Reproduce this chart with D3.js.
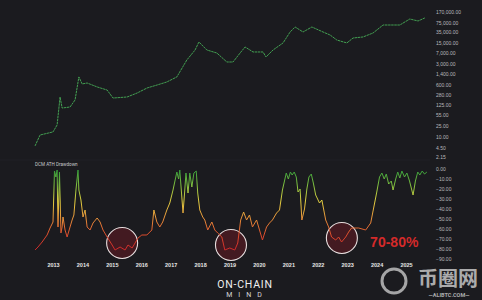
<!DOCTYPE html>
<html>
<head>
<meta charset="utf-8">
<script src="https://cdn.jsdelivr.net/npm/d3@7"></script>
<style>
  body { margin: 0; background: #1b1b1f; }
  svg { display: block; }
</style>
</head>
<body>
<div class="chart-box"></div>
<script>
// price (log, upper pane): [decimal year, USD]
const priceYears = [2012.39, 2012.56, 2013.00, 2013.14, 2013.24, 2013.31, 2013.58, 2013.75, 2013.88, 2013.99,
  2014.16, 2014.50, 2014.84, 2015.04, 2015.52, 2015.86, 2016.20, 2016.54, 2016.87, 2017.21,
  2017.55, 2017.83, 2017.96, 2018.23, 2018.57, 2018.91, 2019.12, 2019.36, 2019.53, 2019.80,
  2020.14, 2020.24, 2020.48, 2020.82, 2021.06, 2021.23, 2021.50, 2021.80, 2022.18, 2022.42,
  2022.65, 2022.99, 2023.20, 2023.54, 2023.88, 2024.22, 2024.56, 2024.79, 2025.13, 2025.41, 2025.64];
const priceValues = [5.1, 11.9, 15.1, 26, 229, 97, 105, 182, 1089, 630,
  680, 500, 393, 211, 229, 312, 462, 582, 736, 1089,
  4070, 8850, 16500, 8850, 7000, 3480, 3480, 7000, 11200, 7590,
  7590, 5150, 8850, 15300, 35900, 53000, 35900, 53000, 35900, 28400,
  19200, 15300, 22500, 24400, 33200, 61800, 61800, 61800, 98700, 84500, 107000];

// DCM ATH drawdown (%), lower pane
const ddYears = [2012.39, 2012.49, 2012.63, 2012.80, 2012.90, 2013.00, 2013.05, 2013.10, 2013.14, 2013.17,
  2013.22, 2013.27, 2013.31, 2013.34, 2013.41, 2013.48, 2013.58, 2013.65, 2013.71, 2013.78,
  2013.85, 2013.88, 2013.95, 2014.02, 2014.09, 2014.16, 2014.26, 2014.36, 2014.50, 2014.60,
  2014.70, 2014.84, 2015.01, 2015.11, 2015.28, 2015.45, 2015.55, 2015.69, 2015.79, 2015.89,
  2016.02, 2016.19, 2016.36, 2016.43, 2016.53, 2016.63, 2016.73, 2016.87, 2016.97, 2017.08,
  2017.21, 2017.27, 2017.31, 2017.42, 2017.47, 2017.52, 2017.59, 2017.65, 2017.72, 2017.79,
  2017.87, 2017.92, 2017.99, 2018.09, 2018.16, 2018.26, 2018.40, 2018.50, 2018.60, 2018.74,
  2018.84, 2019.01, 2019.18, 2019.28, 2019.38, 2019.48, 2019.58, 2019.68, 2019.78, 2019.92,
  2020.02, 2020.12, 2020.26, 2020.36, 2020.46, 2020.60, 2020.70, 2020.80, 2020.93, 2021.00,
  2021.07, 2021.13, 2021.20, 2021.27, 2021.33, 2021.40, 2021.46, 2021.55, 2021.63, 2021.70,
  2021.78, 2021.85, 2021.93, 2022.06, 2022.14, 2022.27, 2022.37, 2022.47, 2022.61, 2022.71,
  2022.81, 2022.95, 2023.05, 2023.15, 2023.39, 2023.63, 2023.80, 2023.90, 2024.00, 2024.10,
  2024.18, 2024.26, 2024.33, 2024.41, 2024.50, 2024.56, 2024.65, 2024.72, 2024.79, 2024.86,
  2024.95, 2025.03, 2025.12, 2025.24, 2025.32, 2025.40, 2025.47, 2025.55, 2025.63, 2025.71];
const ddValues = [-81, -78, -73, -66, -59, -53, -2, -8, -1, -58,
  -3, -64, -58, -48, -61, -68, -58, -51, -46, -21,
  -1, -21, -31, -48, -41, -58, -61, -54, -49, -53,
  -61, -68, -76, -81, -78, -81, -76, -79, -74, -69,
  -66, -66, -61, -41, -53, -58, -53, -41, -34, -21,
  -3, -10, -1, -44, -25, -4, -24, -4, -18, -4,
  -2, -24, -41, -48, -51, -61, -53, -61, -64, -68,
  -81, -79, -81, -74, -51, -43, -51, -46, -58, -51,
  -61, -71, -58, -54, -51, -44, -41, -21, -4, -10,
  -3, -6, -3, -8, -23, -20, -51, -40, -20, -8,
  -5, -14, -26, -34, -31, -51, -58, -68, -71, -68,
  -73, -68, -63, -59, -59, -61, -54, -39, -24, -8,
  -4, -10, -5, -15, -12, -21, -10, -3, -9, -2,
  -8, -4, -12, -26, -12, -3, -6, -2, -5, -3];

const yearTicks = [2013, 2014, 2015, 2016, 2017, 2018, 2019, 2020, 2021, 2022, 2023, 2024, 2025];
const priceTicks = [170000, 75000, 35000, 15000, 7000, 3000, 1400, 600, 280, 125, 55, 25, 10, 4.5, 2.15];
const ddTicks = [0, -10, -20, -30, -40, -50, -60, -70, -80, -90];

// bottoms circled on the drawdown pane
const bottomYears = [2015.35, 2019.05, 2022.82];
const bottomValues = [-74, -76, -69];

const width = 482, height = 300;

const svg = d3.select(".chart-box")
  .append("svg")
  .attr("width", width)
  .attr("height", height)
  .style("font-family", "Roboto, 'DejaVu Sans', sans-serif");

svg.append("rect").attr("width", width).attr("height", height).attr("fill", "#1b1b1f");

const x = d3.scaleLinear().domain([2013, 2025]).range([53, 406]);
const yPrice = d3.scaleLog().domain([2.15, 170000]).range([157, 12]);
const yDD = d3.scaleLinear().domain([-90, 0]).range([259, 169]);

const fmt = d3.format(",.2f");

// right axes
svg.append("g")
  .attr("transform", "translate(432,0)")
  .call(d3.axisRight(yPrice).tickValues(priceTicks).tickSize(0).tickPadding(4).tickFormat(fmt))
  .call(g => g.select(".domain").remove())
  .selectAll("text")
  .attr("fill", "#b8b8bc")
  .style("font-size", "5px");

svg.append("g")
  .attr("transform", "translate(432,0)")
  .call(d3.axisRight(yDD).tickValues(ddTicks).tickSize(0).tickPadding(4).tickFormat(fmt))
  .call(g => g.select(".domain").remove())
  .selectAll("text")
  .attr("fill", "#b8b8bc")
  .style("font-size", "5px");

// year axis
svg.append("g")
  .attr("transform", "translate(0,263)")
  .call(d3.axisBottom(x).tickValues(yearTicks).tickSize(0).tickPadding(0).tickFormat(d3.format("d")))
  .call(g => g.select(".domain").remove())
  .selectAll("text")
  .attr("fill", "#e6e6e6")
  .style("font-size", "5.5px")
  .style("font-weight", "bold");

// pane divider + title
svg.append("line")
  .attr("x1", 0).attr("x2", 430)
  .attr("y1", 160).attr("y2", 160)
  .attr("stroke", "#26262c").attr("stroke-width", 0.6);

svg.append("text")
  .attr("x", 35).attr("y", 166)
  .attr("fill", "#c8c8cc")
  .style("font-size", "4.6px")
  .text("DCM ATH Drawdown");

// price line
const priceData = priceYears.map((d, i) => ({year: d, v: priceValues[i]}));
svg.append("path")
  .datum(priceData)
  .attr("fill", "none")
  .attr("stroke", "#43a052")
  .attr("stroke-width", 1)
  .attr("stroke-dasharray", "2.5,0.6")
  .attr("d", d3.line().x(d => x(d.year)).y(d => yPrice(d.v)));

// circles behind the drawdown line
const bottoms = bottomYears.map((d, i) => ({year: d, v: bottomValues[i]}));
svg.selectAll(".bottom")
  .data(bottoms)
  .enter().append("circle")
  .attr("class", "bottom")
  .attr("cx", d => x(d.year))
  .attr("cy", d => yDD(d.v))
  .attr("r", 15.5)
  .attr("fill", "#4a1a22")
  .attr("fill-opacity", 0.85)
  .attr("stroke", "#e6dede")
  .attr("stroke-width", 1.1);

// drawdown line, coloured by level
const grad = svg.append("defs").append("linearGradient")
  .attr("id", "ddGrad")
  .attr("gradientUnits", "userSpaceOnUse")
  .attr("x1", 0).attr("x2", 0)
  .attr("y1", yDD(0)).attr("y2", yDD(-85));
[[0, "#2f9a3a"], [0.18, "#7cc040"], [0.38, "#e2d040"], [0.58, "#e8923a"], [0.78, "#dc4a2c"], [1, "#c81e2a"]]
  .forEach(s => grad.append("stop").attr("offset", s[0]).attr("stop-color", s[1]));

const ddData = ddYears.map((d, i) => ({year: d, v: ddValues[i]}));
svg.append("path")
  .datum(ddData)
  .attr("fill", "none")
  .attr("stroke", "url(#ddGrad)")
  .attr("stroke-width", 1)
  .attr("stroke-linejoin", "round")
  .attr("d", d3.line().x(d => x(d.year)).y(d => yDD(d.v)));

svg.append("text")
  .attr("x", x(2023.78)).attr("y", yDD(-78))
  .attr("fill", "#d42a2a")
  .style("font-size", "14px")
  .style("font-weight", "bold")
  .style("font-family", "'Liberation Sans', Arial, sans-serif")
  .text("70-80%");

// logo
svg.append("text")
  .attr("x", 245).attr("y", 288)
  .attr("text-anchor", "middle")
  .attr("fill", "#f0f0f0")
  .style("font-size", "10.5px")
  .style("letter-spacing", "0.8px")
  .text("ON-CHAIN");
svg.append("text")
  .attr("x", 247).attr("y", 296.5)
  .attr("text-anchor", "middle")
  .attr("fill", "#d8d8d8")
  .style("font-size", "7px")
  .style("letter-spacing", "6px")
  .text("MIND");

// watermark
const wm = svg.append("g").attr("opacity", 0.8);
wm.append("circle")
  .attr("cx", 394).attr("cy", 281).attr("r", 12)
  .attr("fill", "none").attr("stroke", "#c8c8c8").attr("stroke-width", 3);
wm.append("text")
  .attr("x", 448).attr("y", 286)
  .attr("text-anchor", "middle")
  .attr("fill", "#d0d0d0")
  .style("font-family", "'Noto Sans CJK SC'")
  .style("font-size", "20px")
  .style("font-weight", "bold")
  .text("币圈网");
wm.append("text")
  .attr("x", 449).attr("y", 297)
  .attr("text-anchor", "middle")
  .attr("fill", "#d0d0d0")
  .style("font-size", "5.5px")
  .style("font-weight", "bold")
  .text("—ALIBTC.COM—");
</script>
</body>
</html>
